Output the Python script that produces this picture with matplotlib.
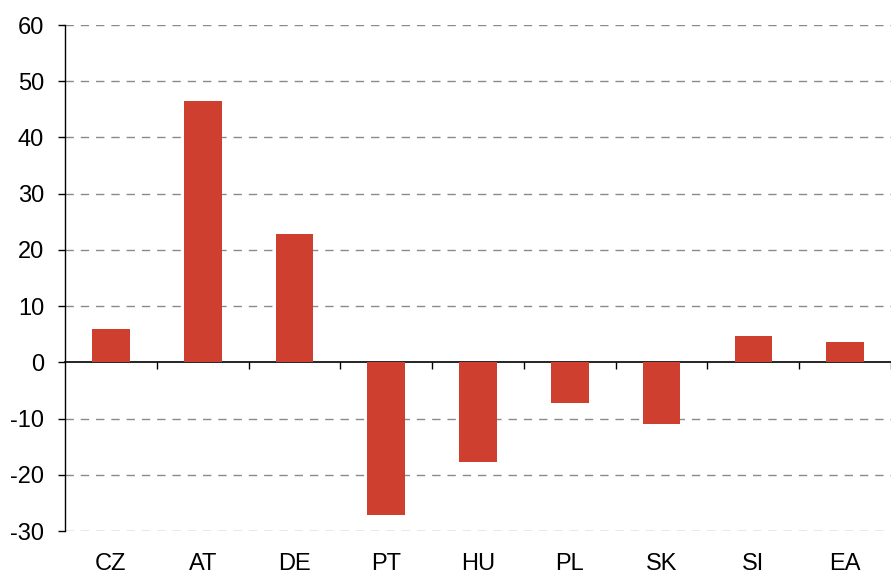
import matplotlib
matplotlib.use("Agg")
import matplotlib.pyplot as plt
import matplotlib.transforms as mtransforms
import numpy as np

plt.rcParams['font.family'] = ['Liberation Sans', 'DejaVu Sans']
plt.rcParams['axes.unicode_minus'] = False

countries = ['CZ', 'AT', 'DE', 'PT', 'HU', 'PL', 'SK', 'SI', 'EA']
values = [6.0, 46.4, 22.9, -27.1, -17.8, -7.2, -10.9, 4.7, 3.7]
yticks = [-30, -20, -10, 0, 10, 20, 30, 40, 50, 60]

fig = plt.figure(figsize=(8.91, 5.79), dpi=100)
ax = fig.add_axes([0.073, 0.0829, 0.927, 0.8739])

x = np.arange(len(countries))
ax.bar(x, values, width=0.41, color='#CF3F30', zorder=3)

# gridlines (dashed) except zero
for v in yticks:
    if v != 0:
        ax.axhline(v, color='#8a8a8a', lw=1.0, ls=(0, (6, 5)), zorder=1)

ax.set_ylim(-30, 60)
ax.set_xlim(-0.5, 8.435)
ax.set_yticks(yticks)
ax.tick_params(axis='y', direction='out', length=5, width=1, pad=10, labelsize=17)

# zero line acts as x axis, ticks between the categories
ax.spines['bottom'].set_position(('data', 0))
ax.spines['bottom'].set_linewidth(1.2)
ax.spines['top'].set_visible(False)
ax.spines['right'].set_visible(False)
ax.spines['left'].set_linewidth(1)
ax.set_xticks(x + 0.5)
ax.set_xticklabels([])
ax.tick_params(axis='x', direction='out', length=5, width=1)

trans = mtransforms.blended_transform_factory(ax.transData, ax.transAxes)
for xi, name in zip(x, countries):
    ax.text(xi, -0.065, name, transform=trans, ha='center', va='center', fontsize=17)

fig.savefig('out.png', dpi=100)
